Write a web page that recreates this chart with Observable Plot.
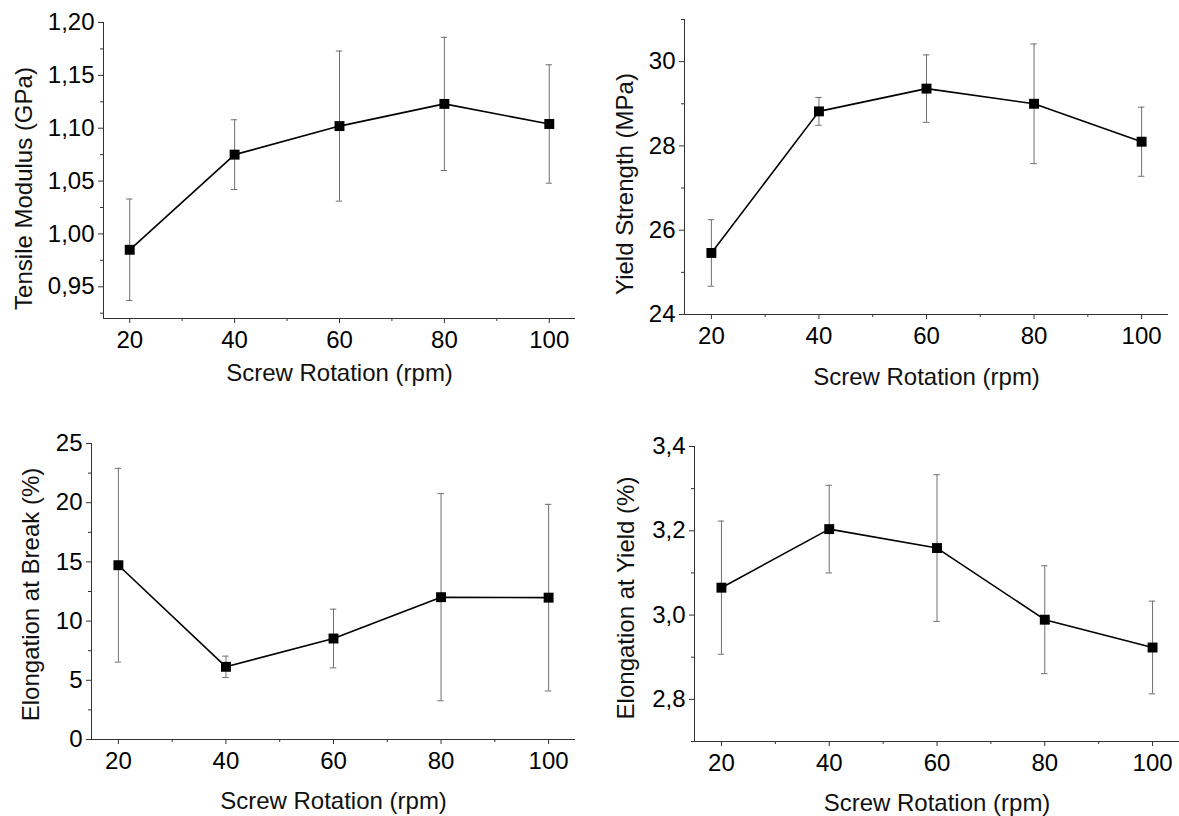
<!DOCTYPE html>
<html>
<head>
<meta charset="utf-8">
<script src="https://cdn.jsdelivr.net/npm/d3@7"></script>
<script src="https://cdn.jsdelivr.net/npm/@observablehq/plot@0.6"></script>
<style>
  html, body { margin: 0; padding: 0; background: #fff; }
  #root { position: relative; width: 1179px; height: 816px; overflow: hidden; }
  .panel { position: absolute; }
  .panel svg { display: block; }
</style>
</head>
<body>
<div id="root"></div>
<script>
// ---- data ----
const rpm = [20, 40, 60, 80, 100];
const xTicks = [20, 40, 60, 80, 100];
const xMinor = [30, 50, 70, 90];
const xTitle = "Screw Rotation (rpm)";

const modulus = [0.985, 1.075, 1.102, 1.123, 1.104];
const modulusSD = [0.048, 0.033, 0.071, 0.063, 0.056];
const modulusTicks = [0.95, 1.00, 1.05, 1.10, 1.15, 1.20];
const modulusMinor = [0.925, 0.975, 1.025, 1.075, 1.125, 1.175];
const modulusTitle = "Tensile Modulus (GPa)";

const yieldStr = [25.46, 28.82, 29.36, 29.00, 28.10];
const yieldStrSD = [0.79, 0.33, 0.80, 1.42, 0.82];
const yieldStrTicks = [24, 26, 28, 30];
const yieldStrMinor = [25, 27, 29, 31];
const yieldStrTitle = "Yield Strength (MPa)";

const elongBreak = [14.72, 6.14, 8.53, 12.02, 11.98];
const elongBreakSD = [8.18, 0.90, 2.48, 8.75, 7.88];
const elongBreakTicks = [0, 5, 10, 15, 20, 25];
const elongBreakMinor = [2.5, 7.5, 12.5, 17.5, 22.5];
const elongBreakTitle = "Elongation at Break (%)";

const elongYield = [3.065, 3.204, 3.159, 2.989, 2.923];
const elongYieldSD = [0.158, 0.104, 0.174, 0.128, 0.110];
const elongYieldTicks = [2.8, 3.0, 3.2, 3.4];
const elongYieldMinor = [2.7, 2.9, 3.1, 3.3];
const elongYieldTitle = "Elongation at Yield (%)";

// ---- drawing ----
const comma = (fmt) => (d) => d3.format(fmt)(d).replace(".", ",");
const FONT = "'Liberation Sans', Arial, sans-serif";
const AXIS = "#333";

function panel({left, top, width, height, mL, mR, mT, mB, yDomain, values, sd, yTicks, yMinor, yFmt, yTitle, yTitleX, yTitleDy, xTitleY}) {
  const data = rpm.map((x, i) => ({x, y: values[i], lo: values[i] - sd[i], hi: values[i] + sd[i]}));
  const capHalf = 0.6;
  const chart = Plot.plot({
    width, height,
    marginLeft: mL, marginRight: mR, marginTop: mT, marginBottom: mB,
    style: {fontFamily: FONT, color: "#000", background: "#fff", overflow: "visible"},
    x: {domain: [15, 105]},
    y: {domain: yDomain},
    marks: [
      Plot.axisX(xTicks, {tickSize: 5, tickPadding: 7, fontSize: 24, stroke: AXIS, label: null, tickFormat: d => String(d)}),
      Plot.axisX(xMinor, {tickSize: 3, stroke: AXIS, label: null, tickFormat: () => ""}),
      Plot.axisY(yTicks, {tickSize: 5, tickPadding: 4, fontSize: 24, stroke: AXIS, label: null, tickFormat: yFmt}),
      Plot.axisY(yMinor, {tickSize: 3, stroke: AXIS, label: null, tickFormat: () => ""}),
      Plot.ruleX([15], {stroke: AXIS, strokeWidth: 1}),
      Plot.ruleY([yDomain[0]], {stroke: AXIS, strokeWidth: 1}),
      Plot.ruleX(data, {x: "x", y1: "lo", y2: "hi", stroke: "#707070", strokeWidth: 1}),
      Plot.ruleY(data, {y: "hi", x1: d => d.x - capHalf, x2: d => d.x + capHalf, stroke: "#707070", strokeWidth: 1}),
      Plot.ruleY(data, {y: "lo", x1: d => d.x - capHalf, x2: d => d.x + capHalf, stroke: "#707070", strokeWidth: 1}),
      Plot.line(data, {x: "x", y: "y", stroke: "#000", strokeWidth: 1.6}),
      Plot.dot(data, {x: "x", y: "y", symbol: "square", r: 5.6, fill: "#000", stroke: "none"}),
      Plot.text([yTitle], {frameAnchor: "left", textAnchor: "middle", lineAnchor: "middle", rotate: -90,
        dx: yTitleX - mL, dy: yTitleDy, fontSize: 24, fill: "#111"}),
      Plot.text([xTitle], {frameAnchor: "bottom", textAnchor: "middle", lineAnchor: "middle",
        dy: xTitleY - (height - mB), fontSize: 24, fill: "#111"})
    ]
  });
  const div = document.createElement("div");
  div.className = "panel";
  div.style.left = left + "px";
  div.style.top = top + "px";
  div.appendChild(chart);
  document.getElementById("root").appendChild(div);
}

panel({left: 0, top: 0, width: 590, height: 400, mL: 103, mR: 15, mT: 22, mB: 82,
  yDomain: [0.92, 1.20], values: modulus, sd: modulusSD, yTicks: modulusTicks, yMinor: modulusMinor,
  yFmt: comma(".2f"), yTitle: modulusTitle, yTitleX: 24, yTitleDy: 18, xTitleY: 373});

panel({left: 590, top: 0, width: 589, height: 400, mL: 94, mR: 11, mT: 19, mB: 86,
  yDomain: [24, 31], values: yieldStr, sd: yieldStrSD, yTicks: yieldStrTicks, yMinor: yieldStrMinor,
  yFmt: d3.format("d"), yTitle: yieldStrTitle, yTitleX: 35, yTitleDy: 17, xTitleY: 377});

panel({left: 0, top: 400, width: 590, height: 416, mL: 91, mR: 15, mT: 43, mB: 77,
  yDomain: [0, 25], values: elongBreak, sd: elongBreakSD, yTicks: elongBreakTicks, yMinor: elongBreakMinor,
  yFmt: d3.format("d"), yTitle: elongBreakTitle, yTitleX: 31, yTitleDy: 3, xTitleY: 401});

panel({left: 590, top: 400, width: 589, height: 416, mL: 104, mR: 0, mT: 46, mB: 75,
  yDomain: [2.7, 3.4], values: elongYield, sd: elongYieldSD, yTicks: elongYieldTicks, yMinor: elongYieldMinor,
  yFmt: comma(".1f"), yTitle: elongYieldTitle, yTitleX: 36, yTitleDy: 4, xTitleY: 403});
</script>
</body>
</html>
